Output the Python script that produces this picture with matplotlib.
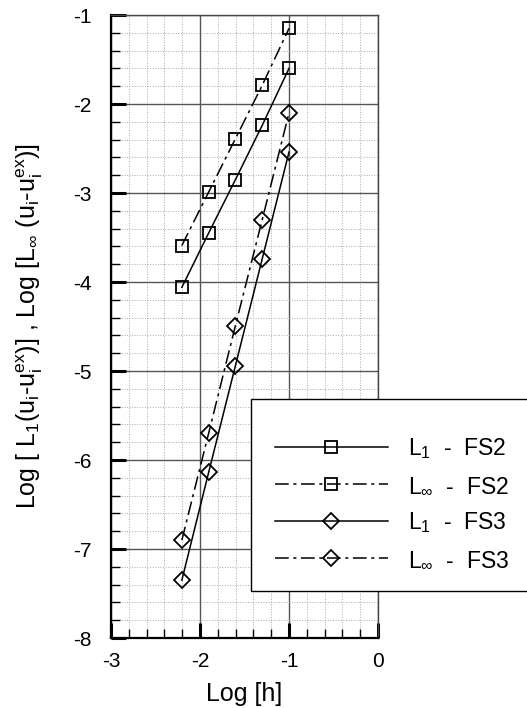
import numpy as np
import matplotlib
matplotlib.use("Agg")
import matplotlib.pyplot as plt
from matplotlib.patches import Rectangle

plt.rcParams['font.family'] = ['Liberation Sans', 'DejaVu Sans']
plt.rcParams['mathtext.default'] = 'regular'
plt.rcParams['axes.unicode_minus'] = False

# log10 of mesh size h = 1/160 ... 1/10
log_h = [-2.204, -1.903, -1.602, -1.301, -1.0]

l1_fs2 = [-4.06, -3.45, -2.85, -2.24, -1.60]
linf_fs2 = [-3.59, -2.99, -2.39, -1.79, -1.15]
l1_fs3 = [-7.35, -6.14, -4.94, -3.74, -2.54]
linf_fs3 = [-6.90, -5.70, -4.49, -3.30, -2.10]

labels = [r'$L_1$  -  FS2', r'$L_\infty$  -  FS2', r'$L_1$  -  FS3', r'$L_\infty$  -  FS3']

dashdot = (0, (9, 3, 2, 3))

fig = plt.figure(figsize=(5.27, 7.08), dpi=100)
ax = fig.add_axes([111/527, 1 - 638/708, 267/527, 623/708])

ax.plot(log_h, l1_fs2, color='black', lw=1.1, marker='s', ms=8, mfc='none', mew=1.3, label=labels[0])
ax.plot(log_h, linf_fs2, color='black', lw=1.1, ls=dashdot, marker='s', ms=8, mfc='none', mew=1.3, label=labels[1])
ax.plot(log_h, l1_fs3, color='black', lw=1.1, marker='D', ms=8, mfc='none', mew=1.3, label=labels[2])
ax.plot(log_h, linf_fs3, color='black', lw=1.1, ls=dashdot, marker='D', ms=8, mfc='none', mew=1.3, label=labels[3])

ax.set_xlim(-3, 0)
ax.set_ylim(-8, -1)
ax.set_xticks([-3, -2, -1, 0])
ax.set_yticks(np.arange(-8, 0))
ax.set_xticks(np.arange(-3, 0.01, 0.2), minor=True)
ax.set_yticks(np.arange(-8, -0.99, 0.2), minor=True)

ax.grid(which='major', color='#555555', lw=1.0, ls='-')
ax.grid(which='minor', color='#aaaaaa', lw=0.7, ls=':')
ax.set_axisbelow(True)

ax.tick_params(which='major', direction='in', length=11, width=2.2, labelsize=15, pad=14)
ax.tick_params(axis='x', which='major', pad=10)
ax.tick_params(which='minor', direction='in', length=6.5, width=1.0)

for s in ['left', 'bottom']:
    ax.spines[s].set_linewidth(1.6)
for s in ['top', 'right']:
    ax.spines[s].set_linewidth(1.0)
    ax.spines[s].set_color('#444444')

ax.set_xlabel('Log [h]', fontsize=18, labelpad=8)
ax.set_ylabel(r'Log [ $L_1$($u_i$-$u_i^{ex}$)] , Log [$L_\infty$ ($u_i$-$u_i^{ex}$)]', fontsize=18, labelpad=20)

# legend box reaches past the right edge of the figure
fig.patches.append(Rectangle((251/527, 1 - 591/708), 300/527, 192/708, transform=fig.transFigure,
                             facecolor='white', edgecolor='black', lw=1.0, zorder=5))
leg = fig.legend(loc='center left', bbox_to_anchor=(275/527, 1 - 503.5/708), frameon=False,
                 fontsize=16.5, handlelength=4.93, handletextpad=0.87, labelspacing=0.58,
                 borderpad=0, borderaxespad=0)
leg.set_zorder(6)

fig.savefig('out.png', dpi=100)
